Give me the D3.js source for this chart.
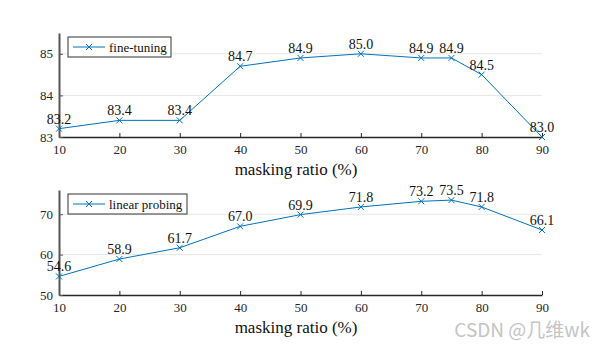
<!DOCTYPE html>
<html>
<head>
<meta charset="utf-8">
<script src="https://cdn.jsdelivr.net/npm/d3@7"></script>
<style>
  body { margin: 0; background: #fff; }
  text { font-family: "Liberation Serif", "Times New Roman", serif; }
</style>
</head>
<body>
<svg id="chart"></svg>
<script>
const ratios = [10, 20, 30, 40, 50, 60, 70, 75, 80, 90];
const fineTuning = [83.2, 83.4, 83.4, 84.7, 84.9, 85.0, 84.9, 84.9, 84.5, 83.0];
const linearProbing = [54.6, 58.9, 61.7, 67.0, 69.9, 71.8, 73.2, 73.5, 71.8, 66.1];
const xTicks = [10, 20, 30, 40, 50, 60, 70, 80, 90];
const fineTicks = [83, 84, 85];
const linearTicks = [50, 60, 70];

const svg = d3.select('#chart').attr('width', 604).attr('height', 351);
const blue = '#0072BD';

const x = d3.scaleLinear().domain([10, 90]).range([59, 542]);

function panel(values, yDomain, yRange, ticks, legendText, legendW) {
    const y = d3.scaleLinear().domain(yDomain).range(yRange);
    const g = svg.append('g');

    // grid
    g.selectAll('.grid').data(ticks.slice(1)).join('line')
        .attr('x1', x.range()[0]).attr('x2', x.range()[1])
        .attr('y1', d => y(d)).attr('y2', d => y(d))
        .attr('stroke', '#e6e6e6').attr('stroke-width', 1);

    // x axis
    const xAxis = d3.axisBottom(x).tickValues(xTicks).tickSizeInner(-4).tickSizeOuter(0).tickPadding(8);
    const xg = g.append('g').attr('transform', `translate(0,${yRange[0]})`).call(xAxis)
        .attr('font-family', null);
    xg.select('.domain').attr('stroke', '#262626').attr('stroke-width', 1.5);
    xg.selectAll('.tick line').attr('stroke', '#262626');
    xg.selectAll('text').attr('font-size', 13).attr('fill', '#262626');

    // y axis
    const yAxis = d3.axisLeft(y).tickValues(ticks).tickFormat(d3.format('d'))
        .tickSizeInner(-4).tickSizeOuter(0).tickPadding(6);
    const yg = g.append('g').attr('transform', `translate(${x.range()[0]},0)`).call(yAxis)
        .attr('font-family', null);
    yg.select('.domain').attr('stroke', '#555').attr('stroke-width', 2);
    yg.selectAll('.tick line').attr('stroke', '#555');
    yg.selectAll('text').attr('font-size', 13).attr('fill', '#262626');

    // line
    const pts = ratios.map((r, i) => [r, values[i]]);
    g.append('path').datum(pts)
        .attr('fill', 'none').attr('stroke', blue).attr('stroke-width', 1)
        .attr('d', d3.line().x(d => x(d[0])).y(d => y(d[1])));

    const s = 3;
    g.selectAll('.mk').data(pts).join('path')
        .attr('stroke', blue).attr('stroke-width', 1)
        .attr('d', d => {
            const px = x(d[0]), py = y(d[1]);
            return `M${px - s},${py - s}L${px + s},${py + s}M${px - s},${py + s}L${px + s},${py - s}`;
        });

    g.selectAll('.lbl').data(pts).join('text')
        .attr('x', d => x(d[0])).attr('y', d => y(d[1]) - 5)
        .attr('text-anchor', 'middle').attr('font-size', 14).attr('fill', '#111')
        .text(d => d[1].toFixed(1));

    // x label
    g.append('text').attr('x', 296).attr('y', yRange[0] + 37.5)
        .attr('text-anchor', 'middle').attr('font-size', 17).attr('fill', '#111')
        .text('masking ratio (%)');

    // legend
    const lx = 68, ly = yRange[1] + 4;
    g.append('rect').attr('x', lx).attr('y', ly).attr('width', legendW).attr('height', 20)
        .attr('fill', '#fff').attr('stroke', '#333').attr('stroke-width', 1);
    g.append('line').attr('x1', lx + 5).attr('x2', lx + 37).attr('y1', ly + 10).attr('y2', ly + 10)
        .attr('stroke', blue);
    g.append('path').attr('stroke', blue)
        .attr('d', `M${lx + 18},${ly + 7}L${lx + 24},${ly + 13}M${lx + 18},${ly + 13}L${lx + 24},${ly + 7}`);
    g.append('text').attr('x', lx + 41).attr('y', ly + 14.5).attr('font-size', 13).attr('fill', '#111')
        .text(legendText);
}

panel(fineTuning, [83, 85.5], [137, 33], fineTicks, 'fine-tuning', 103);
panel(linearProbing, [50, 76], [295, 190], linearTicks, 'linear probing', 119);

svg.append('text').attr('x', 590).attr('y', 337).attr('text-anchor', 'end')
    .attr('font-size', 19).attr('fill', '#c4c4c4')
    .style('font-family', '"Noto Sans CJK SC", "Noto Sans", sans-serif')
    .text('CSDN @几维wk');
</script>
</body>
</html>
